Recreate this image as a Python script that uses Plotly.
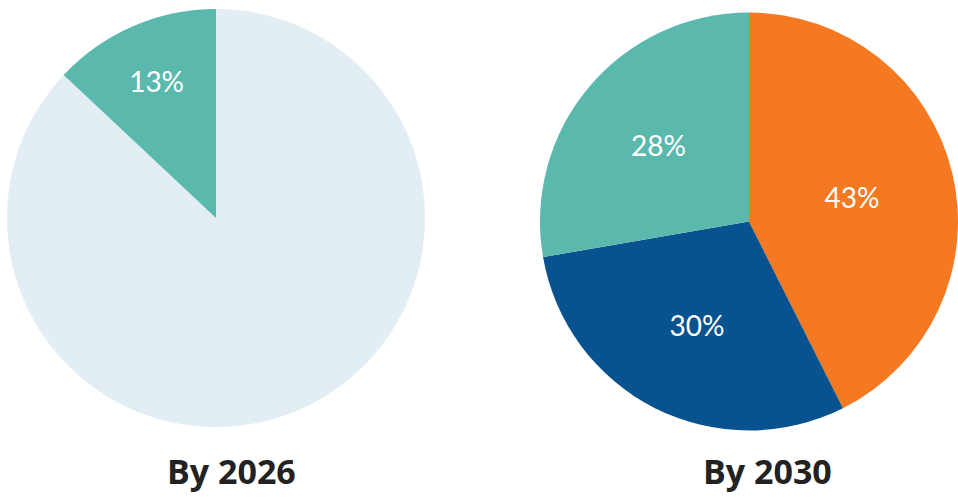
import plotly.graph_objects as go

W, H = 958, 497

# Share of the market, by year
labels_2026 = ["Not yet", "Adopted"]
values_2026 = [87, 13]
colors_2026 = ["#E3EDF4", "#5BB8AD"]
text_2026 = ["", "%{value}%"]

labels_2030 = ["Segment A", "Segment B", "Segment C"]
values_2030 = [43, 30, 28]
colors_2030 = ["#F47920", "#08538F", "#5BB8AD"]
text_2030 = ["%{value}%", "%{value}%", "%{value}%"]

titles = ["By 2026", "By 2030"]

label_font = dict(family="Lato, 'Open Sans', sans-serif", size=28, color="white")

fig = go.Figure()

fig.add_trace(go.Pie(
    labels=labels_2026, values=values_2026, sort=False,
    direction="clockwise", rotation=0,
    marker=dict(colors=colors_2026, line=dict(width=0)),
    texttemplate=text_2026, textposition="inside",
    insidetextorientation="horizontal",
    textfont=label_font, hoverinfo="label+value",
    domain=dict(x=[7 / W, 425 / W], y=[1 - 427 / H, 1 - 9 / H]),
    showlegend=False,
))

fig.add_trace(go.Pie(
    labels=labels_2030, values=values_2030, sort=False,
    direction="clockwise", rotation=0,
    marker=dict(colors=colors_2030, line=dict(width=0)),
    texttemplate=text_2030, textposition="inside",
    insidetextorientation="horizontal",
    textfont=label_font, hoverinfo="label+value",
    domain=dict(x=[540 / W, 1.0], y=[1 - 433 / H, 1 - 10 / H]),
    showlegend=False,
))

title_x = [231 / W, 767 / W]
for t, x in zip(titles, title_x):
    fig.add_annotation(
        text=f"<b>{t}</b>", x=x, y=1 - 471 / H, xref="paper", yref="paper",
        showarrow=False, xanchor="center", yanchor="middle",
        font=dict(family="'Open Sans', sans-serif", size=34, color="#222222"),
    )

fig.update_layout(
    width=W, height=H,
    margin=dict(l=0, r=0, t=0, b=0),
    paper_bgcolor="white", plot_bgcolor="white",
    uniformtext=dict(minsize=28, mode="show"),
)

fig.write_html("out.html")
